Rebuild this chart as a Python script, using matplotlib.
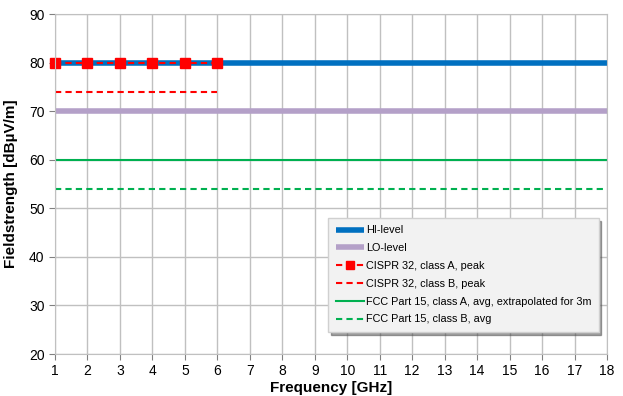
import matplotlib.pyplot as plt

freq_full = [1, 18]
freq_cispr = [1, 2, 3, 4, 5, 6]

hi_level = [80, 80]
lo_level = [70, 70]
cispr_a = [80, 80, 80, 80, 80, 80]
cispr_b = [74, 74, 74, 74, 74, 74]
fcc_a = [60, 60]
fcc_b = [54, 54]

plt.rcParams['font.family'] = ['Liberation Sans', 'DejaVu Sans']

fig = plt.figure(figsize=(6.23, 3.96), dpi=100)
ax = fig.add_axes([55 / 623, 42 / 396, 552 / 623, 340 / 396])

ax.plot(freq_full, hi_level, color='#0070c0', lw=4, label='HI-level', solid_capstyle='butt')
ax.plot(freq_full, lo_level, color='#b4a0c8', lw=4, label='LO-level', solid_capstyle='butt')
ax.plot(freq_cispr, cispr_a, color='#ff0000', lw=1.5, ls=(0, (3, 2)), marker='s', ms=6.5,
        label='CISPR 32, class A, peak', clip_on=False)
ax.plot(freq_cispr, cispr_b, color='#ff0000', lw=1.5, ls=(0, (3, 2)), label='CISPR 32, class B, peak')
ax.plot(freq_full, fcc_a, color='#00b050', lw=1.5, label='FCC Part 15, class A, avg, extrapolated for 3m')
ax.plot(freq_full, fcc_b, color='#00b050', lw=1.5, ls=(0, (3, 2)), label='FCC Part 15, class B, avg')

ax.set_xlim(1, 18)
ax.set_ylim(20, 90)
ax.set_xticks(range(1, 19))
ax.set_yticks(range(20, 91, 10))
ax.grid(True, color='#c0c0c0', lw=1)
ax.set_axisbelow(True)
for s in ax.spines.values():
    s.set_color('#c0c0c0')
ax.tick_params(colors='#808080', labelcolor='black', labelsize=10, length=4)

ax.set_xlabel('Frequency [GHz]', fontsize=11, fontweight='bold', labelpad=2)
ax.set_ylabel('Fieldstrength [dBµV/m]', fontsize=11, fontweight='bold', labelpad=8)

leg = ax.legend(loc='lower right', bbox_to_anchor=(0.985, 0.065), fontsize=7.8,
                frameon=True, fancybox=False, shadow=True, borderpad=0.7,
                labelspacing=0.72, handlelength=2.6, handletextpad=0.15,
                borderaxespad=0, markerscale=0.8)
leg.get_frame().set_facecolor('#f2f2f2')
leg.get_frame().set_edgecolor('#d0d0d0')
leg.get_frame().set_alpha(1)

fig.savefig('out.png', dpi=100)
